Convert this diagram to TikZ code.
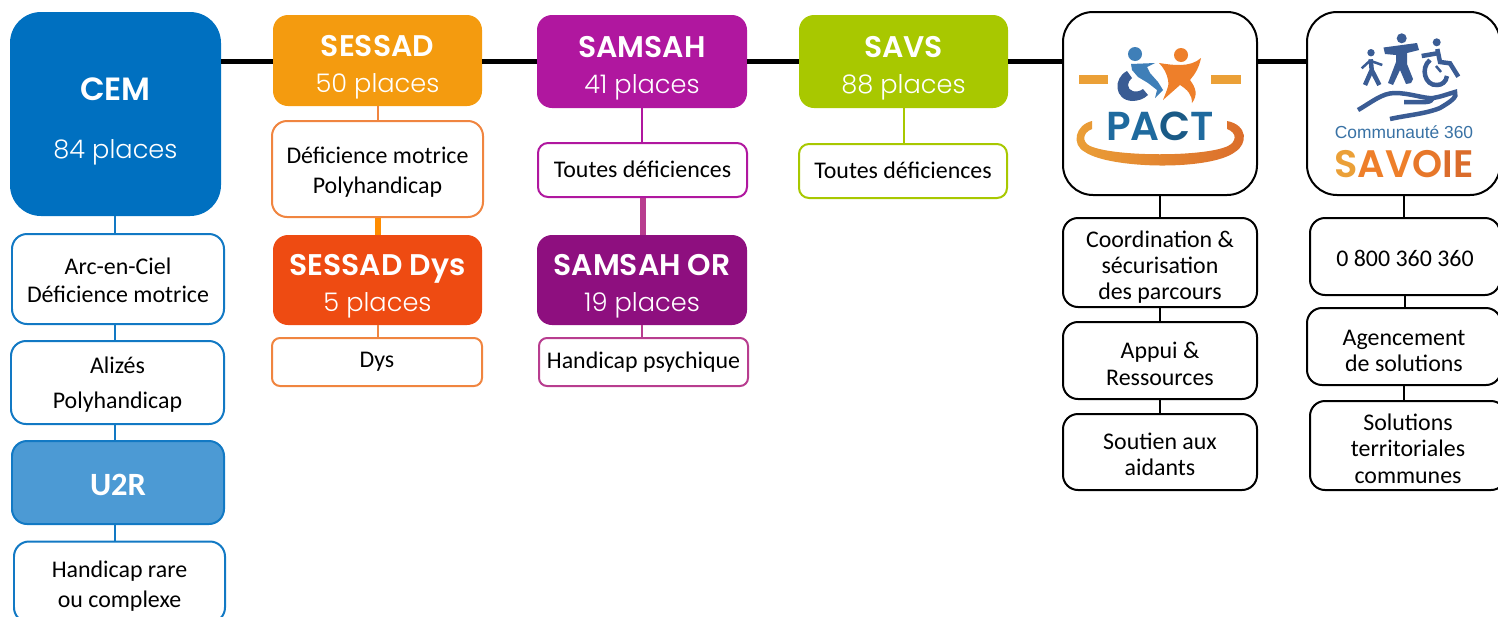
\documentclass[tikz,border=0pt]{standalone}
\usepackage{fontspec}
\setmainfont{Carlito}
\newfontfamily\headfont[UprightFont=* Light,BoldFont=* SemiBold]{Poppins}
\newfontfamily\logofont{Liberation Sans}
\usepackage{tikz}
\usetikzlibrary{calc, positioning}

\definecolor{cemblue}{HTML}{0070C0}
\definecolor{cemline}{HTML}{1279C4}
\definecolor{urblue}{HTML}{4C9AD4}
\definecolor{sessadorange}{HTML}{F49B0F}
\definecolor{sessadline}{HTML}{F08540}
\definecolor{dysred}{HTML}{EE4B12}
\definecolor{samsahpink}{HTML}{B0179F}
\definecolor{samsahdark}{HTML}{8E0F7F}
\definecolor{samsahline}{HTML}{B83D8F}
\definecolor{savsgreen}{HTML}{A8C800}
\definecolor{logoblue}{HTML}{3F7FB8}
\definecolor{logoteal}{HTML}{1F6A9E}
\definecolor{logonavy}{HTML}{3A5C94}
\definecolor{logoorange}{HTML}{EE7F2A}
\definecolor{logosand}{HTML}{EBA037}
\definecolor{logorust}{HTML}{DB6C2B}

\newcommand{\headname}[1]{{\bfseries\fontsize{17}{21}\selectfont\rule{0pt}{19.5pt}#1}}
\newcommand{\headseats}[1]{{\fontsize{14.6}{21}\selectfont #1}}
% invisible rules that push a text down or up in its box
\newcommand{\down}[1]{\rule{0pt}{#1pt}}
\newcommand{\up}[1]{\rule[-#1pt]{0pt}{#1pt}}

\tikzset{
    size/.style 2 args={minimum width=#1*0.02cm, minimum height=#2*0.02cm},
    lead/.style={font=\fontsize{13.6}{#1}\selectfont},
    headbox/.style={rounded corners=0.3cm, inner sep=0pt, align=center, text=white,
        font=\headfont\fontsize{14.6}{20.6}\selectfont},
    infobox/.style={draw, line width=0.04cm, fill=white, rounded corners=0.3cm,
        inner sep=0pt, align=center, lead=15},
    link/.style={line width=0.04cm},
    mainlink/.style={line width=0.1cm},
    thicklink/.style={line width=0.12cm},
    logoline/.style={logonavy, line width=0.09cm}
}

\begin{document}
\begin{tikzpicture}[x=0.02cm, y=-0.02cm]
    \useasboundingbox (0,0) rectangle (1498,616);
    \clip (0,0) rectangle (1498,616);
    \coordinate (axis) at (0,61);

    % Head boxes
    \node[headbox, size={211}{204}, fill=cemblue, rounded corners=0.62cm] (cem) at (115.5,114)
        {{\bfseries\fontsize{18.3}{21}\selectfont\down{21.5}CEM}\\[12.8pt]\headseats{84 places}};
    \node[headbox, size={209}{91}, fill=sessadorange] (sessad) at (377.5,60.5)
        {\headname{SESSAD}\\\headseats{50 places}};
    \node[headbox, size={209}{90}, fill=dysred] (sessaddys) at (377.5,280)
        {\headname{SESSAD Dys}\\\headseats{5 places}};
    \node[headbox, size={210}{93}, fill=samsahpink] (samsah) at (642,61.5)
        {\headname{SAMSAH}\\\headseats{41 places}};
    \node[headbox, size={210}{90}, fill=samsahdark] (samsahor) at (642,280)
        {\headname{SAMSAH OR}\\\headseats{19 places}};
    \node[headbox, size={209}{93}, fill=savsgreen] (savs) at (903.5,61.5)
        {\headname{SAVS}\\\headseats{88 places}};
    \node[infobox, size={194}{183}, rounded corners=0.6cm] (pact) at (1160,103.5) {};
    \node[infobox, size={193}{183}, rounded corners=0.6cm] (savoie) at (1403.5,103.5) {};

    % CEM column
    \node[infobox, draw=cemline, size={212}{90}, lead=16] (arc) at (118,279) {\down{10.6}Arc-en-Ciel\\Déficience motrice};
    \node[infobox, draw=cemline, size={213}{83}, lead=19.8] (alizes) at (117.5,382.5) {\down{11.8}Alizés\\Polyhandicap};
    \node[infobox, draw=cemline, fill=urblue, size={212}{83}, text=white,
        font=\bfseries\fontsize{18.5}{21}\selectfont] (urr) at (118,482.5) {\down{15}U2R};
    \node[infobox, draw=cemline, size={211}{81}, lead=17] (rare) at (119.5,582) {\down{14}Handicap rare\\ou complexe};

    % SESSAD column
    \node[infobox, draw=sessadline, size={211}{96}, lead=17] (motrice) at (377.5,169) {\down{13}Déficience motrice\\Polyhandicap};
    \node[infobox, draw=sessadline, size={210}{48}, rounded corners=0.16cm] (dys) at (377,362) {Dys};

    % SAMSAH column
    \node[infobox, draw=samsahpink, size={209}{54}, rounded corners=0.2cm] (toutes) at (642.5,170) {Toutes déficiences\up{0.4}};
    \node[infobox, draw=samsahline, size={209}{48}, rounded corners=0.16cm] (psy) at (643.5,362) {Handicap psychique};

    % SAVS column
    \node[infobox, draw=savsgreen, size={208}{54}, rounded corners=0.2cm] (toutesb) at (903,171) {Toutes déficiences\up{1}};

    % PACT column
    \node[infobox, size={194}{89}] (coord) at (1160,262.5) {\down{14.6}Coordination \&\\sécurisation\\des parcours};
    \node[infobox, size={194}{77}] (appui) at (1160,360.5) {\down{13}Appui \&\\Ressources};
    \node[infobox, size={194}{76}] (soutien) at (1160,452) {\down{11.8}Soutien aux\\aidants};

    % SAVOIE column
    \node[infobox, size={190}{77}] (tel) at (1405,256.5) {\down{12}0 800 360 360\up{0.1}};
    \node[infobox, size={194}{77}] (agence) at (1404,346.5) {\down{13.5}Agencement\\de solutions};
    \node[infobox, size={196}{89}] (territoire) at (1408,445.5) {\down{13}Solutions\\territoriales\\communes};

    % Main line
    \foreach \a/\b in {cem/sessad,sessad/samsah,samsah/savs,savs/pact,pact/savoie} {
        \draw[mainlink] (\a.east |- axis) -- (\b.west |- axis);
    }

    % Links inside the columns
    \foreach \a/\b in {cem/arc,arc/alizes,alizes/urr,urr/rare} {
        \draw[link, cemline] (115,0 |- \a.south) -- (115,0 |- \b.north);
    }
    \foreach \a/\b in {sessad/motrice,sessaddys/dys} {
        \draw[link, sessadline] (\a.south) -- (\a.south |- \b.north);
    }
    \draw[thicklink, orange!90!yellow] (motrice.south) -- (motrice.south |- sessaddys.north);
    \draw[link, samsahpink] (samsah.south) -- (samsah.south |- toutes.north);
    \draw[thicklink, samsahline] (toutes.south) -- (toutes.south |- samsahor.north);
    \draw[link, samsahline] (samsahor.south) -- (samsahor.south |- psy.north);
    \draw[link, savsgreen] (savs.south) -- (savs.south |- toutesb.north);
    \foreach \a/\b in {pact/coord,coord/appui,appui/soutien} {
        \draw[link] (\a.south) -- (\a.south |- \b.north);
    }
    \foreach \a/\b in {savoie/tel,tel/agence,agence/territoire} {
        \draw[link] (\a.south) -- (\a.south |- \b.north);
    }

    % PACT logo
    \fill[logosand] (1079,75) rectangle (1108,84);
    \fill[logosand] (1211,75) rectangle (1241,84);
    \fill[logoblue] (1135,54) circle (7);
    \fill[logoorange] (1181,55) circle (7);
    \fill[logonavy] (1127,71) .. controls (1113,78) and (1114,100) .. (1132,101)
        .. controls (1138,101) and (1144,99) .. (1148,95) -- (1143,89)
        .. controls (1136,94) and (1128,91) .. (1128,85) .. controls (1128,82) and (1130,80) .. (1132,78) -- cycle;
    \fill[logoblue] (1131,64) -- (1155,63) -- (1147,67) -- (1150,73) -- (1158,82) -- (1163,90)
        -- (1155,98) -- (1157,90) -- (1148,83) -- (1138,77) -- (1132,70) -- cycle;
    \fill[logoorange] (1159,63) .. controls (1172,65) and (1190,68) .. (1201,58)
        .. controls (1199,68) and (1195,74) .. (1190,80)
        .. controls (1196,88) and (1198,95) .. (1192,103)
        .. controls (1192,95) and (1188,90) .. (1180,85)
        -- (1163,100) .. controls (1166,92) and (1170,84) .. (1168,80)
        .. controls (1167,74) and (1164,68) .. cycle;
    \node[inner sep=0pt, font=\headfont\bfseries\fontsize{23}{26}\selectfont] (pactname) at (1160,126)
        {\textcolor{logoteal}{P}\textcolor{logoteal}{A}\textcolor{logoteal!85!black}{C}\textcolor{logoteal}{T}};
    \shade[left color=logosand, right color=logorust]
        (1092,121) .. controls (1075,125) and (1071,145) .. (1085,152)
        .. controls (1110,169) and (1210,171) .. (1235,152)
        .. controls (1248,144) and (1248,125) .. (1227,121) -- (1227,129)
        .. controls (1238,133) and (1236,142) .. (1228,146)
        .. controls (1205,157) and (1115,157) .. (1090,146)
        .. controls (1082,142) and (1082,133) .. (1092,129) -- cycle;

    % SAVOIE logo
    \fill[logonavy] (1371,52.7) circle (3.7);
    \fill[logonavy] (1401.7,38.3) circle (5);
    \fill[logonavy] (1436.7,42.3) circle (4);
    \draw[logoline] (1370.7,59.3) -- (1371.7,70) -- (1365,85);
    \draw[logoline] (1371.7,70) -- (1379.3,85);
    \draw[logoline, line width=0.05cm] (1361.7,68.3) -- (1370,60.7) -- (1382.3,65);
    \fill[logonavy] (1383.5,47.5) -- (1417,43) -- (1419,50) -- (1407,53) -- (1407,64)
        -- (1413,79) -- (1411,83) -- (1406,84) -- (1400,70) -- (1393,85) -- (1388,83)
        -- (1396,62) -- (1396,55) -- (1385,54) -- cycle;
    \draw[logoline] (1421.7,56) -- (1437.3,53.3);
    \draw[logoline] (1437.3,49) -- (1440,62) -- (1450,63.3) -- (1458.3,76.7);
    \draw[logoline] (1430,60) .. controls (1420,68) and (1425,86) .. (1437,85)
        .. controls (1442,85) and (1446,82) .. (1447,76);
    \draw[logoline, line width=0.05cm] (1436,66) -- (1441,72);
    \draw[logoline] (1358,110) .. controls (1372,102) and (1382,93) .. (1395,93)
        .. controls (1410,93) and (1425,99) .. (1433,98)
        .. controls (1440,97) and (1448,94) .. (1455,92)
        .. controls (1458,97) and (1450,102) .. (1440,108)
        .. controls (1425,114) and (1408,115) .. (1390,119);
    \draw[logoline] (1404,102) -- (1426,102) .. controls (1430,102) and (1432,100) .. (1433,98);
    \node[inner sep=0pt, text=logoblue!90!black, font=\logofont\fontsize{9.9}{12}\selectfont] (savoietop) at (1404,132) {Communauté 360};
    \node[inner sep=0pt, font=\headfont\bfseries\fontsize{21.8}{24}\selectfont] (savoiename) at (1404,164)
        {\textcolor{logosand}{S}\textcolor{logoorange}{A}\textcolor{logoorange}{V}\textcolor{logoorange!60!logorust}{O}\textcolor{logorust}{I}\textcolor{logorust}{E}};
\end{tikzpicture}
\end{document}
